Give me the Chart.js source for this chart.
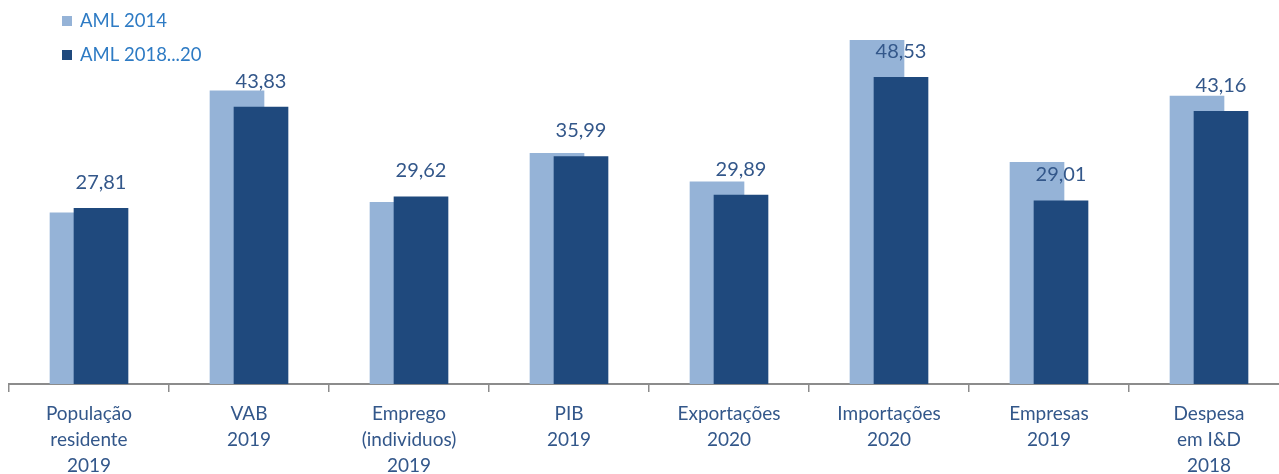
<!DOCTYPE html>
<html>
<head>
<meta charset="utf-8">
<script src="https://cdn.jsdelivr.net/npm/chart.js@4/dist/chart.umd.min.js"></script>
<style>
  html, body { margin: 0; padding: 0; background: #ffffff; overflow: hidden; }
  #wrap { width: 1290px; height: 474px; position: relative; }
</style>
</head>
<body>
<div id="wrap"><canvas id="c"></canvas></div>
<script>
// Categories (multi-line axis labels)
const categories = [
  ['População', 'residente', '2019'],
  ['VAB', '2019'],
  ['Emprego', '(individuos)', '2019'],
  ['PIB', '2019'],
  ['Exportações', '2020'],
  ['Importações', '2020'],
  ['Empresas', '2019'],
  ['Despesa', 'em I&D', '2018']
];

// Series values (share of the AML, %)
const aml2014 = [27.1, 46.4, 28.75, 36.5, 32.0, 54.4, 35.1, 45.6];
const aml2018_20 = [27.81, 43.83, 29.62, 35.99, 29.89, 48.53, 29.01, 43.16];

const seriesNames = ['AML 2014', 'AML 2018...20'];

const LIGHT = '#95B3D7';
const DARK = '#1F497D';
const TEXT = '#33578A';
const LEGEND_TEXT = '#2E7BC4';
const AXIS = '#8C8C8C';
const FONT = 'Lato, "Open Sans", sans-serif';

// The two series overlap inside each category: the older one sits a little to the left, behind.
const barShift = 0.075;
const toPoints = (vals, shift) => vals.map((v, i) => ({ x: i + shift, y: v }));

const fmt = v => v.toFixed(2).replace('.', ',');

const valueLabels = {
  id: 'valueLabels',
  afterDatasetsDraw(chart) {
    const { ctx } = chart;
    const meta = chart.getDatasetMeta(1);
    ctx.save();
    ctx.font = '20px ' + FONT;
    ctx.fillStyle = TEXT;
    ctx.textAlign = 'center';
    ctx.textBaseline = 'middle';
    meta.data.forEach((el, i) => {
      ctx.fillText(fmt(aml2018_20[i]), el.x, el.y - 26);
    });
    ctx.restore();
  }
};

const cornerLegend = {
  id: 'cornerLegend',
  afterDraw(chart) {
    const { ctx } = chart;
    const colors = [LIGHT, DARK];
    ctx.save();
    ctx.font = '18.5px ' + FONT;
    ctx.textBaseline = 'middle';
    ctx.textAlign = 'left';
    seriesNames.forEach((name, i) => {
      const cy = 21 + i * 34;
      ctx.fillStyle = colors[i];
      ctx.fillRect(62, cy - 5, 10, 10);
      ctx.fillStyle = LEGEND_TEXT;
      ctx.fillText(name, 80, cy);
    });
    ctx.restore();
  }
};

new Chart(document.getElementById('c'), {
  type: 'bar',
  data: {
    labels: categories,
    datasets: [
      {
        label: seriesNames[0],
        data: toPoints(aml2014, -barShift),
        backgroundColor: LIGHT,
        xAxisID: 'xv',
        order: 2
      },
      {
        label: seriesNames[1],
        data: toPoints(aml2018_20, barShift),
        backgroundColor: DARK,
        xAxisID: 'xv',
        order: 1
      }
    ]
  },
  options: {
    responsive: true,
    maintainAspectRatio: false,
    animation: false,
    layout: { padding: { left: 9, right: 1, top: 5, bottom: 0 } },
    datasets: { bar: { grouped: false, barThickness: 54 } },
    plugins: { legend: { display: false }, tooltip: { enabled: false } },
    scales: {
      x: {
        type: 'category',
        position: 'bottom',
        offset: true,
        grid: { offset: true, drawOnChartArea: false, color: AXIS, tickLength: 8, lineWidth: 1.5 },
        border: { color: AXIS, width: 2 },
        ticks: {
          color: TEXT,
          font: { family: FONT, size: 19, lineHeight: 1.37 },
          padding: 9,
          maxRotation: 0,
          autoSkip: false
        },
        // the last label line runs to the bottom edge
        afterFit(scale) { scale.height = 90; }
      },
      xv: {
        type: 'linear',
        position: 'bottom',
        display: false,
        offset: false,
        min: -0.5,
        max: 7.5
      },
      y: {
        display: false,
        min: 0,
        max: 60
      }
    }
  },
  plugins: [valueLabels, cornerLegend]
});
</script>
</body>
</html>
